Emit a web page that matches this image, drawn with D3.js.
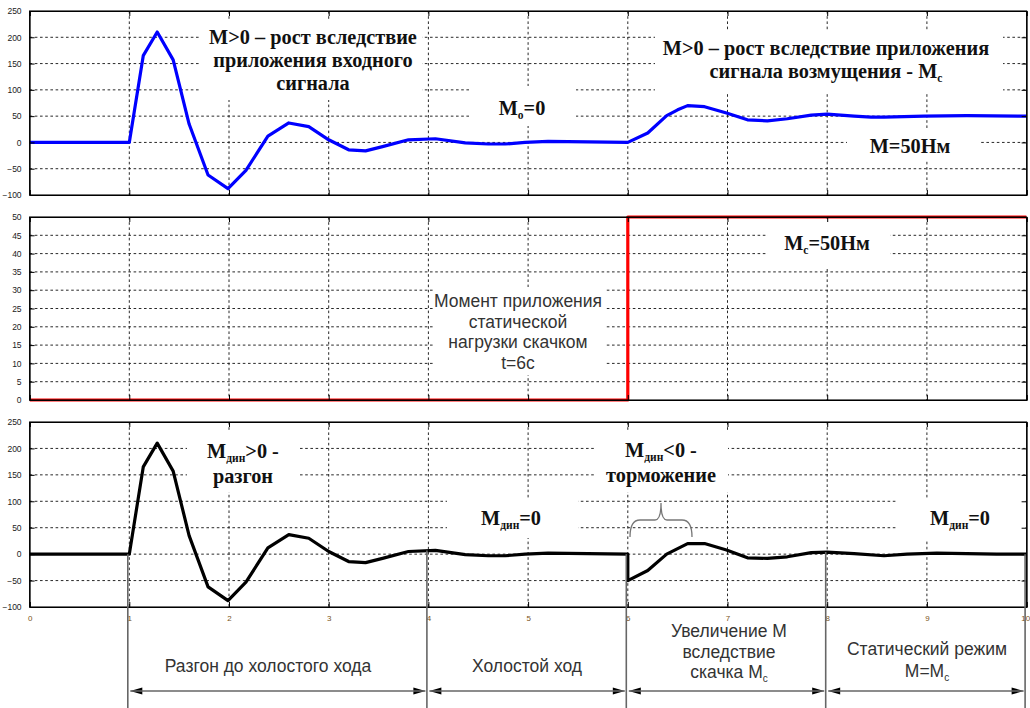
<!DOCTYPE html>
<html>
<head>
<meta charset="utf-8">
<script src="https://cdn.jsdelivr.net/npm/d3@7"></script>
<style>
  html, body { margin: 0; padding: 0; background: #fff; }
  svg { display: block; }
</style>
</head>
<body>
<svg id="chart" width="1030" height="708"></svg>
<script>
// Motor torque M (top panel), t in seconds
const tMotor = [0, 1, 1.14, 1.28, 1.44, 1.6, 1.79, 1.99, 2.17, 2.39, 2.6, 2.8, 3.0, 3.2, 3.37, 3.54, 3.8, 4.07, 4.37, 4.6, 4.77, 4.97, 5.2, 5.6, 6.0,
                6.2, 6.39, 6.5, 6.6, 6.77, 6.99, 7.2, 7.4, 7.6, 7.84, 8.0, 8.27, 8.44, 8.57, 8.97, 9.4, 10];
const mMotor = [0, 0, 165, 210, 157, 35, -62, -88, -53, 12, 37, 30, 5, -14, -16, -8, 5, 7, -1, -3, -3, 0, 2, 1, 0,
                18, 51, 62, 70, 68, 56, 43, 41, 45, 52, 54, 50, 48, 48, 50, 51, 50];

// Static load torque Mc (middle panel): step at t = 6 s
const tStatic = [0, 6, 6, 10];
const mStatic = [0, 0, 50, 50];

// Dynamic torque Mдин (bottom panel)
const tDyn = [0, 1, 1.14, 1.28, 1.44, 1.6, 1.79, 1.99, 2.17, 2.39, 2.6, 2.8, 3.0, 3.2, 3.37, 3.54, 3.8, 4.07, 4.37, 4.6, 4.77, 4.97, 5.2, 5.6, 6.0,
              6.0, 6.2, 6.39, 6.6, 6.77, 6.99, 7.2, 7.4, 7.6, 7.84, 8.0, 8.27, 8.57, 8.8, 9.1, 9.7, 10];
const mDyn = [0, 0, 165, 210, 157, 35, -62, -88, -53, 12, 37, 30, 5, -14, -16, -8, 5, 7, -1, -3, -3, 0, 2, 1, 0,
              -50, -31, 0, 20, 20, 8, -7, -8, -5, 3, 4, 1, -3, 0, 2, 0, 0];

// Axis ticks
const xTicks = [0, 1, 2, 3, 4, 5, 6, 7, 8, 9, 10];
const yTicksTorque = [-100, -50, 0, 50, 100, 150, 200, 250];
const yTicksStatic = [0, 5, 10, 15, 20, 25, 30, 35, 40, 45, 50];

// Stage boundaries (s) and labels under the time axis
const stageBounds = [1, 4, 6, 8, 10];
const stageLabels = [
  ["Разгон до холостого хода"],
  ["Холостой ход"],
  ["Увеличение М", "вследствие", "скачка М|с"],
  ["Статический режим", "М=М|с"]
];

const svg = d3.select("#chart");
const x = d3.scaleLinear().domain([0, 10]).range([29.6, 1026.6]);

const panels = [
  { id: "p1", top: 11,  bottom: 195, domain: [-100, 250], ticks: yTicksTorque, t: tMotor,  v: mMotor,  color: "#0000ff", xlabels: false },
  { id: "p2", top: 217, bottom: 400, domain: [0, 50],     ticks: yTicksStatic, t: tStatic, v: mStatic, color: "#ff0000", xlabels: false },
  { id: "p3", top: 422, bottom: 607, domain: [-100, 250], ticks: yTicksTorque, t: tDyn,    v: mDyn,    color: "#000000", xlabels: true }
];
panels.forEach(p => { p.y = d3.scaleLinear().domain(p.domain).range([p.bottom, p.top]); });

const x0 = x.range()[0], x1 = x.range()[1];
const gridLayer = svg.append("g");
const boxLayer = svg.append("g");
const lineLayer = svg.append("g");
const frameLayer = svg.append("g");
const textLayer = svg.append("g");

// Dotted grid
panels.forEach(p => {
  const g = gridLayer.append("g").attr("stroke", "#111").attr("stroke-width", 0.9).attr("stroke-dasharray", "2.6,2.6");
  g.selectAll("line.h").data(p.ticks.slice(1, -1)).join("line")
    .attr("x1", x0).attr("x2", x1).attr("y1", d => p.y(d)).attr("y2", d => p.y(d));
  g.selectAll("line.v").data(xTicks.slice(1, -1)).join("line")
    .attr("y1", p.top).attr("y2", p.bottom).attr("x1", d => x(d)).attr("x2", d => x(d));
});

// White backgrounds behind the annotations
const boxes = [
  [200, 20, 222, 80], [470, 86, 106, 40], [655, 30, 348, 63], [847, 130, 133, 30],
  [433, 287, 172, 88], [768, 219, 122, 48],
  [187, 430, 113, 62], [595, 430, 133, 62], [447, 498, 131, 40], [897, 498, 128, 42]
];
boxLayer.selectAll("rect").data(boxes).join("rect")
  .attr("x", d => d[0]).attr("y", d => d[1]).attr("width", d => d[2]).attr("height", d => d[3])
  .attr("fill", "#fff");

// Curves
panels.forEach(p => {
  svg.append("clipPath").attr("id", "clip-" + p.id).append("rect")
    .attr("x", x0).attr("y", p.top - 2).attr("width", x1 - x0).attr("height", p.bottom - p.top + 4);
  const line = d3.line().x(d => x(d[0])).y(d => p.y(d[1]));
  lineLayer.append("path")
    .datum(p.t.map((t, i) => [t, p.v[i]]))
    .attr("clip-path", "url(#clip-" + p.id + ")")
    .attr("d", line)
    .attr("fill", "none").attr("stroke", p.color).attr("stroke-width", 3.2)
    .attr("stroke-linejoin", "round");
});

// Frames and axes (inward ticks on all four sides)
panels.forEach(p => {
  const g = frameLayer.append("g");
  const left = g.append("g").attr("transform", `translate(${x0},0)`)
    .call(d3.axisLeft(p.y).tickValues(p.ticks).tickSize(-5).tickPadding(8).tickFormat(d3.format("d")));
  left.selectAll("text").attr("font-family", "Liberation Sans, Arial, sans-serif")
    .attr("font-size", 8.5).attr("fill", "#222");
  g.append("g").attr("transform", `translate(${x1},0)`)
    .call(d3.axisRight(p.y).tickValues(p.ticks).tickSize(-5).tickFormat(""));
  g.append("g").attr("transform", `translate(0,${p.top})`)
    .call(d3.axisTop(x).tickValues(xTicks).tickSize(-5).tickFormat(""));
  const bottom = g.append("g").attr("transform", `translate(0,${p.bottom})`)
    .call(d3.axisBottom(x).tickValues(xTicks).tickSize(-5).tickPadding(8)
      .tickFormat(p.xlabels ? d3.format("d") : ""));
  bottom.selectAll("text").attr("font-family", "Liberation Sans, Arial, sans-serif")
    .attr("font-size", 8).attr("fill", "#7a5418")
    .filter(d => d === 10).attr("text-anchor", "end").attr("dx", 3);
  g.selectAll(".domain").attr("stroke", "#000").attr("stroke-width", 1);
  g.selectAll(".tick line").attr("stroke", "#000");
  g.append("rect").attr("x", x0).attr("y", p.top).attr("width", x1 - x0).attr("height", p.bottom - p.top)
    .attr("fill", "none").attr("stroke", "#000").attr("stroke-width", 1.1);
});

// Text annotations; "|" marks the start of a subscript
const serif = "Liberation Serif, Times New Roman, DejaVu Serif, serif";
const sans = "Liberation Sans, Arial, sans-serif";
function richText(sel, str, subSize) {
  const parts = str.split("|");
  sel.append("tspan").text(parts[0]);
  if (parts.length > 1) {
    const m = parts[1].match(/^([^=<>\s]+)(.*)$/);
    sel.append("tspan").attr("font-size", subSize).attr("dy", 4).text(m[1]);
    sel.append("tspan").attr("dy", -4).text(m[2]);
  }
}
function label(cx, lines, opts) {
  lines.forEach((s, i) => {
    const t = textLayer.append("text")
      .attr("x", cx).attr("y", opts.y[i])
      .attr("text-anchor", "middle")
      .attr("font-family", opts.font).attr("font-size", opts.size)
      .attr("font-weight", opts.weight || "normal")
      .attr("fill", opts.color);
    richText(t, s, opts.sub);
  });
}
const bold = { font: serif, size: 20.3, weight: "bold", color: "#111", sub: 11.5 };

label(313, ["М>0 – рост вследствие", "приложения входного", "сигнала"], { ...bold, y: [43.5, 66.5, 90] });
label(522, ["М|о=0"], { ...bold, y: [115] });
label(826, ["М>0 – рост вследствие приложения", "сигнала возмущения - М|с"], { ...bold, y: [55, 78] });
label(910, ["М=50Нм"], { ...bold, y: [153] });
label(827, ["М|с=50Нм"], { ...bold, y: [250] });
label(243, ["М|дин>0 -", "разгон"], { ...bold, y: [458, 483] });
label(661, ["М|дин<0 -", "торможение"], { ...bold, y: [457, 482] });
label(511, ["М|дин=0"], { ...bold, y: [525] });
label(960, ["М|дин=0"], { ...bold, y: [525] });

label(518, ["Момент приложения", "статической", "нагрузки скачком", "t=6c"],
  { font: sans, size: 17.5, color: "#333", sub: 11, y: [307, 327.5, 348, 368.5] });

// Brace over the braking interval
textLayer.append("path")
  .attr("d", "M630,537 Q630,520 640,520 L655,520 Q661,520 661,503 Q661,520 667,520 L682,520 Q692,520 692,537")
  .attr("fill", "none").attr("stroke", "#777").attr("stroke-width", 1.3);

// Stage markers under the time axis
const p3 = panels[2];
const valueAt = t => {
  let best = 0;
  tDyn.forEach((tt, i) => { if (Math.abs(tt - t) < Math.abs(tDyn[best] - t)) best = i; });
  return mDyn[best];
};
const ann = svg.append("g");
ann.selectAll("line.stage").data(stageBounds).join("line")
  .attr("x1", d => x(d) - 1.5).attr("x2", d => x(d) - 1.5)
  .attr("y1", d => p3.y(valueAt(d))).attr("y2", 708)
  .attr("stroke", "#666").attr("stroke-width", 1.6);

const arrowY = 691;
const heads = ann.append("g").attr("fill", "#000");
d3.pairs(stageBounds).forEach(([a, b]) => {
  const xa = x(a) + 1, xb = x(b) - 3;
  ann.append("line").attr("x1", xa).attr("x2", xb).attr("y1", arrowY).attr("y2", arrowY)
    .attr("stroke", "#666").attr("stroke-width", 1.6);
  heads.append("path").attr("d", `M${xa},${arrowY} l12,-3.5 l0,7 z`);
  heads.append("path").attr("d", `M${xb},${arrowY} l-12,-3.5 l0,7 z`);
});

const stageY = [[672], [672], [637, 658, 678], [655, 677]];
const stageX = [268, 527, 729, 927];
stageLabels.forEach((lines, i) => {
  label(stageX[i], lines, { font: sans, size: 17.5, color: "#333", sub: 10, y: stageY[i] });
});
</script>
</body>
</html>
